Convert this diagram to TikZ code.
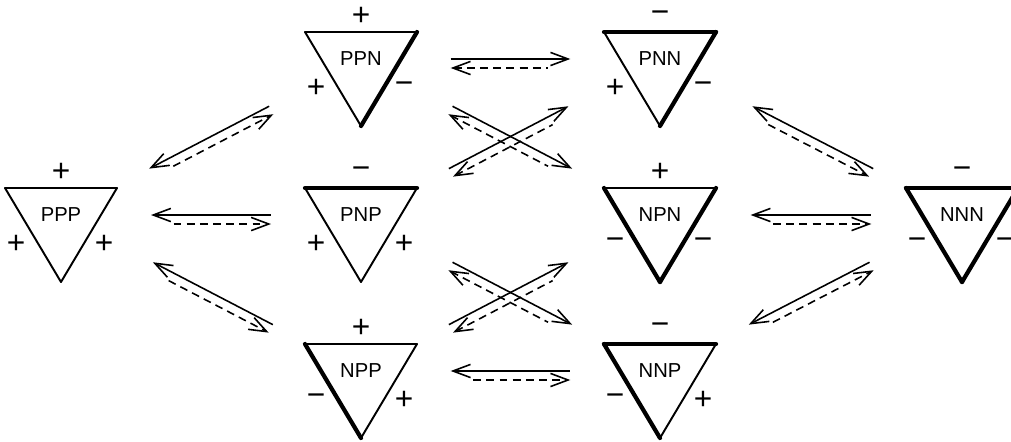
\documentclass[tikz,border=0pt]{standalone}
\usepackage{fontspec}
\setmainfont{Liberation Sans}
\usetikzlibrary{calc, positioning}
\usetikzlibrary{arrows.meta}

\newcommand{\sgP}{+}
\newcommand{\sgN}{−}

\tikzset{
  edgeP/.style={line width=1.1pt, line cap=round},
  edgeN/.style={line width=2.4pt, line cap=round},
  state/.style={font=\fontsize{11.5}{13}\selectfont, inner sep=0pt},
  sign/.style={font=\fontsize{18}{20}\selectfont, inner sep=0pt},
  flux/.style={line width=0.9pt, >={Straight Barb[length=10pt,width=7.5pt]}},
  solidL/.style={flux, <-},
  solidR/.style={flux, ->},
  dashL/.style={flux, ->, dash pattern=on 4.5pt off 3pt, shorten <=0.45cm},
  dashR/.style={flux, <-, dash pattern=on 4.5pt off 3pt, shorten >=0.45cm},
}

\begin{document}
\begin{tikzpicture}
\useasboundingbox (0,0) rectangle (20.22,8.82);

% The eight sign states
\foreach \x/\y/\lf/\tp/\rt in {1.22/4.44/P/P/P, 7.22/7.56/P/P/N, 7.22/4.44/P/N/P,
    7.22/1.32/N/P/P, 13.20/7.56/P/N/N, 13.20/4.44/N/P/N, 13.20/1.32/N/N/P,
    19.24/4.44/N/N/N}
{
  \coordinate (\lf\tp\rt) at (\x,\y);
  \coordinate (\lf\tp\rt-a) at ($(\lf\tp\rt)+(-1.12,0.62)$);
  \coordinate (\lf\tp\rt-b) at ($(\lf\tp\rt)+(1.12,0.62)$);
  \coordinate (\lf\tp\rt-c) at ($(\lf\tp\rt)+(0,-1.26)$);
  \draw[edge\tp] (\lf\tp\rt-a) -- (\lf\tp\rt-b);
  \draw[edge\lf] (\lf\tp\rt-a) -- (\lf\tp\rt-c);
  \draw[edge\rt] (\lf\tp\rt-b) -- (\lf\tp\rt-c);
  \node[state] (\lf\tp\rt-n) at ($(\lf\tp\rt)+(0,0.08)$) {\lf\tp\rt};
  \node[sign] (\lf\tp\rt-top) at ($(\lf\tp\rt)+(0,0.93)$) {\csname sg\tp\endcsname};
  \node[sign] (\lf\tp\rt-lft) at ($(\lf\tp\rt)+(-0.9,-0.5)$) {\csname sg\lf\endcsname};
  \node[sign] (\lf\tp\rt-rgt) at ($(\lf\tp\rt)+(0.86,-0.5)$) {\csname sg\rt\endcsname};
}

% Transitions: solid one way, dashed back
\foreach \a/\b/\d in {PPP/PPN/L, PPP/PNP/L, PPP/NPP/L, PPN/PNN/R, PPN/NPN/R,
    PNP/PNN/R, PNP/NNP/R, NPP/NPN/R, NPP/NNP/L, PNN/NNN/L, NPN/NNN/L, NNP/NNN/L}
{
  \coordinate (lu) at ($(\a)!0.08cm!90:(\b)$);
  \coordinate (ru) at ($(\b)!0.08cm!-90:(\a)$);
  \coordinate (ld) at ($(\a)!0.1cm!-90:(\b)$);
  \coordinate (rd) at ($(\b)!0.1cm!90:(\a)$);
  \draw[solid\d] ($(lu)!0.3!(ru)$) -- ($(lu)!0.7!(ru)$);
  \draw[dash\d] ($(ld)!0.3!(rd)$) -- ($(ld)!0.7!(rd)$);
}
\end{tikzpicture}
\end{document}
